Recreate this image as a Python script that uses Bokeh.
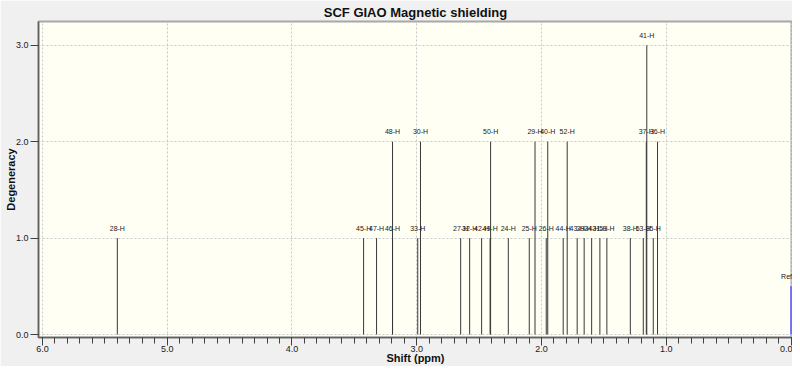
import numpy as np
from bokeh.plotting import figure
from bokeh.models import Range1d, FixedTicker, PrintfTickFormatter, ColumnDataSource, Title
from bokeh.embed import file_html
from bokeh.resources import INLINE
from bokeh.core.properties import value

# ---- data ----
atom_labels = ["28-H", "45-H", "47-H", "46-H", "48-H", "33-H", "30-H", "27-H", "32-H", "42-H",
               "49-H", "50-H", "24-H", "25-H", "29-H", "26-H", "40-H", "44-H", "52-H", "43-H",
               "39-H", "34-H", "31-H", "51-H", "38-H", "53-H", "37-H", "41-H", "35-H", "36-H"]
shifts = [5.400, 3.426, 3.322, 3.194, 3.194, 2.992, 2.970, 2.648, 2.576, 2.480,
          2.412, 2.408, 2.266, 2.098, 2.052, 1.962, 1.950, 1.826, 1.794, 1.714,
          1.658, 1.598, 1.532, 1.476, 1.288, 1.184, 1.160, 1.156, 1.104, 1.070]
degeneracy = [1, 1, 1, 1, 2, 1, 2, 1, 1, 1,
              1, 2, 1, 1, 2, 1, 2, 1, 2, 1,
              1, 1, 1, 1, 1, 1, 2, 3, 1, 2]
ref_labels = ["Ref"]
ref_shifts = [0.0]
ref_heights = [0.5]
x_ticks = [0, 1, 2, 3, 4, 5, 6]
y_ticks = [0, 1, 2, 3]

TITLE = "SCF GIAO Magnetic shielding"
X_TITLE = "Shift (ppm)"
Y_TITLE = "Degeneracy"

# ---- layout ----
W, H = 792, 366
FL, FT, FB = 38, 21, 337     # frame left / top / bottom (canvas px)
X_START, X_END = 6.032, -0.012
Y_START, Y_END = -0.031, 3.246

p = figure(width=W, height=H, output_backend="svg", toolbar_location=None,
           x_range=Range1d(X_START, X_END), y_range=Range1d(Y_START, Y_END),
           min_border_left=FL, min_border_right=0, min_border_top=FT,
           min_border_bottom=H - FB)

p.title = Title(text=TITLE, align="center", text_font="Liberation Sans", text_font_size="13px",
                text_font_style="bold", text_color="#101010", standoff=4, offset=3)

p.background_fill_color = "#fffff4"
p.border_fill_color = "#f0f0f0"
p.outline_line_color = "#a8a8a8"
p.outline_line_width = 2

src = ColumnDataSource(dict(x=shifts, top=degeneracy, label=atom_labels))
p.segment(x0="x", y0=0, x1="x", y1="top", source=src, line_color="#383838", line_width=1)
p.text(x="x", y="top", text="label", source=src, text_font=value("Liberation Sans"),
       text_font_size="7px", text_color="#202020", text_align="center",
       text_baseline="alphabetic", y_offset=-10)

rsrc = ColumnDataSource(dict(x=ref_shifts, top=ref_heights, label=ref_labels))
p.segment(x0="x", y0=0, x1="x", y1="top", source=rsrc, line_color="#5a5aff", line_width=1.5)
p.text(x="x", y="top", text="label", source=rsrc, text_font=value("Liberation Sans"),
       text_font_size="7px", text_color="#202020", text_align="right",
       text_baseline="alphabetic", x_offset=1, y_offset=-10)

# axes
minor = [round(v, 1) for v in np.arange(0, 6.01, 0.1)]
p.xaxis.ticker = FixedTicker(ticks=x_ticks, minor_ticks=minor)
p.yaxis.ticker = FixedTicker(ticks=y_ticks, minor_ticks=[])
for ax in (p.xaxis, p.yaxis):
    ax.formatter = PrintfTickFormatter(format="%.1f")
    ax.axis_line_color = "#606060"
    ax.axis_line_width = 1.5
    ax.major_tick_line_color = "#404040"
    ax.minor_tick_line_color = "#404040"
    ax.major_tick_in = 0
    ax.major_tick_out = 8
    ax.minor_tick_in = 0
    ax.major_label_text_font = "Liberation Sans"
    ax.major_label_text_font_size = "9px"
    ax.major_label_text_color = "#202020"
    ax.axis_label_text_font = "Liberation Sans"
    ax.axis_label_text_font_size = "11px"
    ax.axis_label_text_font_style = "bold"
    ax.axis_label_text_color = "#101010"
p.xaxis.minor_tick_out = 6
p.yaxis.minor_tick_out = 0
p.xaxis.axis_label = X_TITLE
p.yaxis.axis_label = Y_TITLE
p.xaxis.major_label_standoff = 0
p.xaxis.axis_label_standoff = -3
p.yaxis.major_label_standoff = 2
p.yaxis.axis_label_standoff = -4

for g in (p.xgrid, p.ygrid):
    g.grid_line_color = "#c8c8c8"
    g.grid_line_dash = "2 2"
    g.grid_line_width = 1
p.xgrid.ticker = FixedTicker(ticks=x_ticks)
p.ygrid.ticker = FixedTicker(ticks=y_ticks)

open("out.html", "w").write(file_html(p, INLINE))
